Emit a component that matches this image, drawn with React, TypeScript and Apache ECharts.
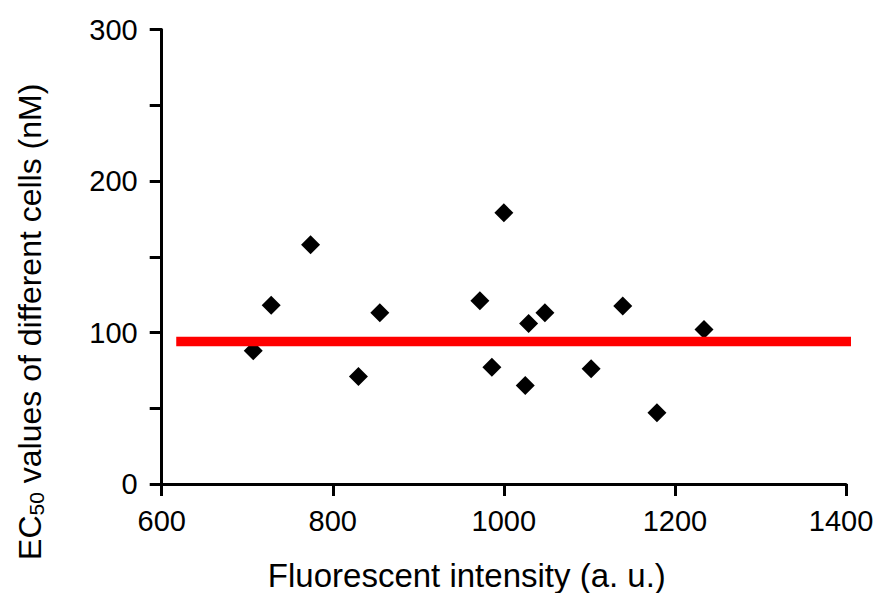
import React, { useEffect, useRef } from "react";
import * as echarts from "echarts";

const intensity = [707, 728, 774, 830, 855, 972, 986, 1000, 1025, 1029, 1048, 1102, 1139, 1179, 1234];
const ec50 = [88, 118, 158, 71, 113, 121, 77, 179, 65, 106, 113, 76, 117.5, 47, 102];
const meanLineX = [617, 1414];
const meanValue = 94;
const xTicks = { min: 600, max: 1400, interval: 200 };
const yTicks = { min: 0, max: 300, interval: 50, labelEvery: 100 };

export default function App() {
  const ref = useRef<HTMLDivElement>(null);
  useEffect(() => {
    document.body.style.margin = "0";
    const chart = echarts.init(ref.current!, null, { renderer: "svg" });
    const font = "'Liberation Sans', Arial, sans-serif";
    chart.setOption({
      animation: false,
      grid: { left: 161.7, right: 28, top: 29.5, bottom: 109, containLabel: false, outerBoundsMode: "none" },
      xAxis: {
        type: "value",
        min: xTicks.min,
        max: xTicks.max,
        interval: xTicks.interval,
        name: "Fluorescent intensity (a. u.)",
        nameLocation: "middle",
        nameGap: 75,
        nameTextStyle: { fontFamily: font, fontSize: 33, color: "#000", padding: [0, 74, 0, 0] },
        axisLine: { lineStyle: { color: "#000", width: 3 } },
        axisTick: { length: 12, lineStyle: { color: "#000", width: 3 } },
        axisLabel: {
          fontFamily: font,
          fontSize: 29,
          color: "#000",
          margin: 22,
          formatter: (v: number) => (v === xTicks.max ? `{last|${v}}` : String(v)),
          rich: {
            last: { fontFamily: font, fontSize: 29, color: "#000", padding: [0, 10, 0, 0] },
          },
        },
        splitLine: { show: false },
      },
      yAxis: {
        type: "value",
        min: yTicks.min,
        max: yTicks.max,
        interval: yTicks.interval,
        name: "EC{sub|50} values of different cells (nM)",
        nameLocation: "middle",
        nameGap: 115,
        nameRotate: 90,
        nameTextStyle: {
          fontFamily: font,
          fontSize: 32,
          color: "#000",
          padding: [0, 130, 0, 0],
          rich: {
            sub: { fontFamily: font, fontSize: 21, color: "#000", verticalAlign: "bottom", padding: [12, 0, 0, 0] },
          },
        },
        axisLine: { lineStyle: { color: "#000", width: 3 } },
        axisTick: { length: 12, lineStyle: { color: "#000", width: 3 } },
        axisLabel: {
          fontFamily: font,
          fontSize: 29,
          color: "#000",
          margin: 24,
          formatter: (v: number) => (v % yTicks.labelEvery === 0 ? String(v) : ""),
        },
        splitLine: { show: false },
      },
      series: [
        {
          type: "scatter",
          data: intensity.map((x, i) => [x, ec50[i]]),
          symbol: "diamond",
          symbolSize: 19,
          itemStyle: { color: "#000", opacity: 1 },
          z: 2,
        },
        {
          type: "line",
          data: meanLineX.map((x) => [x, meanValue]),
          symbol: "none",
          clip: false,
          lineStyle: { color: "#ff0000", width: 9.5, cap: "butt" },
          z: 3,
        },
      ],
    });
    return () => chart.dispose();
  }, []);
  return <div ref={ref} style={{ width: 874, height: 593 }} />;
}
